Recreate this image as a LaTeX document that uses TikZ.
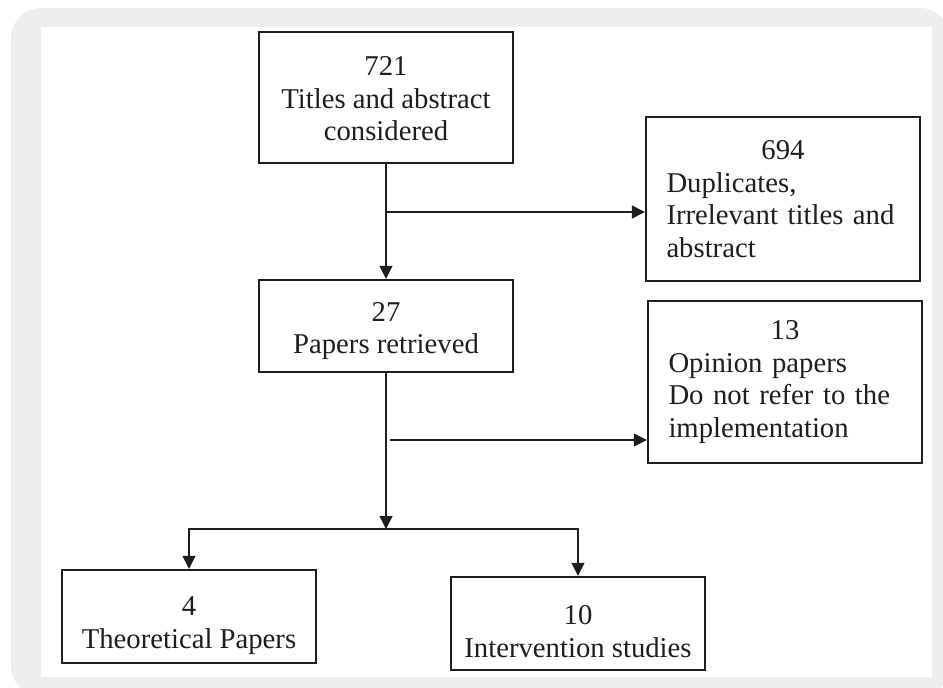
\documentclass[tikz,border=0pt]{standalone}
\usepackage{fontspec}
\setmainfont{Liberation Serif}
\usetikzlibrary{arrows.meta,positioning,calc}
\definecolor{frame}{HTML}{EEEEEE}
\definecolor{ink}{HTML}{1E1E1E}
\tikzset{arr/.style={-{Triangle[length=13pt,width=13pt]},line width=1.3pt,draw=ink},
  txt/.style={inner sep=0pt,align=center,text=ink,font=\fontsize{28.7}{32.5}\selectfont},
  box/.style={txt,draw=ink,line width=2.4pt,fill=white},
  mainbox/.style={box,minimum width=254pt},
  sidebox/.style={box,minimum width=274pt,text width=233pt,align=left}}

\begin{document}
\begin{tikzpicture}[x=1pt,y=-1pt]
\useasboundingbox (0,0) rectangle (943,688);
\fill[frame,rounded corners=30pt] (11,8) rectangle (950,696);
\fill[white] (41,27) rectangle (932,677);
\node[mainbox,minimum height=131pt,label={[txt,yshift=-1.5pt]center:{721\\Titles and abstract\\considered}}] (titles) at (386,97.5) {};
\node[mainbox,minimum height=92pt,label={[txt,yshift=-5pt]center:{27\\Papers retrieved}}] (papers) at (386,326) {};
\node[sidebox,minimum height=164pt] (dup) at (783,199) {\makebox[233pt]{694}\\Duplicates,\\\makebox[233pt][s]{Irrelevant titles and}\\abstract};
\node[sidebox,minimum height=162pt] (opin) at (785,382) {\makebox[233pt]{13}\\Opinion papers\\\makebox[233pt][s]{Do not refer to the}\\implementation};
\node[mainbox,minimum height=93pt,label={[txt,yshift=-9pt]center:{4\\Theoretical Papers}}] (theo) at (189,616.5) {};
\node[mainbox,minimum height=93pt,label={[txt,yshift=-8pt]center:{10\\Intervention studies}}] (interv) at (578,623.5) {};
\coordinate (b1) at (386,212);
\coordinate (b2) at (390,440);
\coordinate (split) at (386,529);
\draw[arr] (titles) -- (papers);
\draw[arr] (b1) -- (b1 -| dup.west);
\draw[arr] (papers) -- (split);
\draw[arr] (b2) -- (b2 -| opin.west);
\foreach \n in {theo,interv}{\draw[arr] (split) -| (\n.north);}
\end{tikzpicture}
\end{document}
